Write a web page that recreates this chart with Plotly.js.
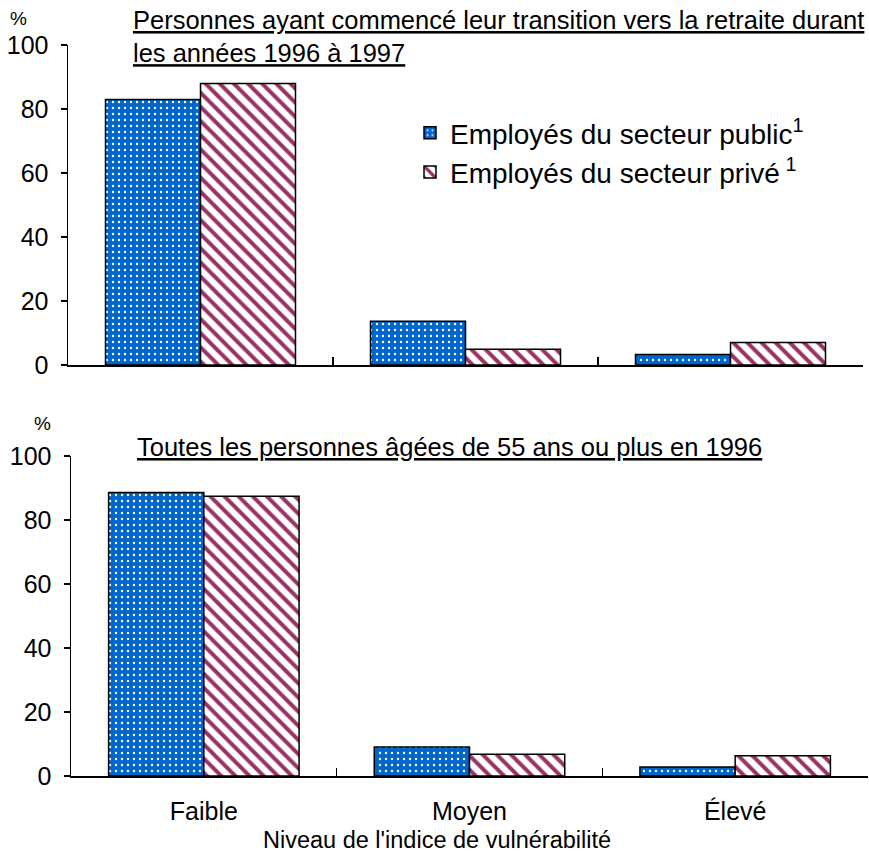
<!DOCTYPE html>
<html>
<head>
<meta charset="utf-8">
<script src="https://cdn.plot.ly/plotly-3.0.1.min.js"></script>
<style>
  body { margin: 0; background: #fff; }
  #chart { width: 869px; height: 860px; }
</style>
</head>
<body>
<div id="chart"></div>
<script>
const categories = ['Faible', 'Moyen', 'Élevé'];
const seriesNames = ['Employés du secteur public<sup>1</sup>', 'Employés du secteur privé<sup> 1</sup>'];

// Personnes ayant commencé leur transition vers la retraite (1996-1997)
const transitionPublic = [83, 13.7, 3.3];
const transitionPrive = [88, 4.9, 7.0];

// Toutes les personnes âgées de 55 ans ou plus en 1996
const toutesPublic = [88.6, 9.1, 2.8];
const toutesPrive = [87.4, 6.8, 6.3];

const yTicks = [0, 20, 40, 60, 80, 100];

const FONT = 'Arial, "Liberation Sans", sans-serif';
const W = 869, H = 860;
const px = v => v / W;
const py = v => 1 - v / H;

const publicMarker = {
    color: '#0066cc',
    line: { color: '#000', width: 1.5 },
    pattern: { shape: '.', bgcolor: '#0066cc', fgcolor: '#ffffff', size: 6, solidity: 0.12 }
};
const priveMarker = {
    color: '#993366',
    line: { color: '#000', width: 1.5 },
    pattern: { shape: '\\', bgcolor: '#ffffff', fgcolor: '#993366', size: 10, solidity: 0.4 }
};

function barTrace(y, name, marker, xa, ya, show, group) {
    return {
        type: 'bar',
        x: categories,
        y: y,
        name: name,
        marker: marker,
        xaxis: xa,
        yaxis: ya,
        showlegend: show,
        legendgroup: group,
        hoverinfo: 'y'
    };
}

const data = [
    barTrace(transitionPublic, seriesNames[0], publicMarker, 'x', 'y', true, 'pub'),
    barTrace(transitionPrive, seriesNames[1], priveMarker, 'x', 'y', true, 'priv'),
    barTrace(toutesPublic, seriesNames[0], publicMarker, 'x2', 'y2', false, 'pub'),
    barTrace(toutesPrive, seriesNames[1], priveMarker, 'x2', 'y2', false, 'priv')
];

const yAxisBase = {
    range: [0, 100],
    tickvals: yTicks,
    ticks: 'outside',
    ticklen: 6,
    tickwidth: 1.5,
    tickcolor: '#000',
    showline: true,
    linecolor: '#000',
    linewidth: 1.5,
    showgrid: false,
    zeroline: false,
    ticklabelstandoff: 7,
    tickfont: { family: FONT, size: 25, color: '#000' },
    fixedrange: true
};

const xAxisBase = {
    type: 'category',
    tickson: 'boundaries',
    ticks: 'inside',
    ticklen: 8,
    tickwidth: 1.5,
    tickcolor: '#000',
    showline: true,
    linecolor: '#000',
    linewidth: 1.5,
    showgrid: false,
    zeroline: false,
    tickfont: { family: FONT, size: 25, color: '#000' },
    fixedrange: true
};

const layout = {
    width: W,
    height: H,
    margin: { l: 0, r: 0, t: 0, b: 0 },
    paper_bgcolor: '#fff',
    plot_bgcolor: '#fff',
    font: { family: FONT, size: 22, color: '#000' },
    barmode: 'group',
    bargap: 0.283,
    bargroupgap: 0,
    xaxis: Object.assign({}, xAxisBase, {
        domain: [px(68), px(863)],
        anchor: 'y',
        showticklabels: false
    }),
    yaxis: Object.assign({}, yAxisBase, {
        domain: [py(365), py(45)],
        anchor: 'x'
    }),
    xaxis2: Object.assign({}, xAxisBase, {
        domain: [px(71), px(868)],
        anchor: 'y2',
        ticklabelstandoff: 12
    }),
    yaxis2: Object.assign({}, yAxisBase, {
        domain: [py(776), py(456)],
        anchor: 'x2'
    }),
    legend: {
        x: px(410),
        y: py(108),
        xanchor: 'left',
        yanchor: 'top',
        bgcolor: 'rgba(0,0,0,0)',
        traceorder: 'grouped',
        tracegroupgap: 0,
        font: { family: FONT, size: 28, color: '#000' }
    },
    annotations: [
        {
            text: '<u>Personnes ayant commencé leur transition vers la retraite durant</u><br><u>les années 1996 à 1997</u>',
            xref: 'paper', yref: 'paper',
            x: px(131), y: py(4),
            xanchor: 'left', yanchor: 'top',
            align: 'left',
            showarrow: false,
            font: { family: FONT, size: 25.5, color: '#000' }
        },
        {
            text: '<u>Toutes les personnes âgées de 55 ans ou plus en 1996</u>',
            xref: 'paper', yref: 'paper',
            x: px(135), y: py(431),
            xanchor: 'left', yanchor: 'top',
            align: 'left',
            showarrow: false,
            font: { family: FONT, size: 25.5, color: '#000' }
        },
        {
            text: "Niveau de l'indice de vulnérabilité",
            xref: 'paper', yref: 'paper',
            x: px(437), y: py(840),
            xanchor: 'center', yanchor: 'middle',
            showarrow: false,
            font: { family: FONT, size: 23.5, color: '#000' }
        },
        {
            text: '%',
            xref: 'paper', yref: 'paper',
            x: px(18), y: py(6),
            xanchor: 'center', yanchor: 'top',
            showarrow: false,
            font: { family: FONT, size: 19, color: '#000' }
        },
        {
            text: '%',
            xref: 'paper', yref: 'paper',
            x: px(42), y: py(411),
            xanchor: 'center', yanchor: 'top',
            showarrow: false,
            font: { family: FONT, size: 19, color: '#000' }
        }
    ]
};

Plotly.newPlot('chart', data, layout, { displayModeBar: false, staticPlot: true });
</script>
</body>
</html>
